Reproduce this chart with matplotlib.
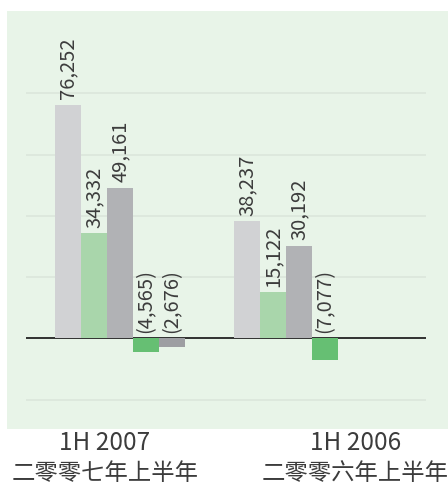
import matplotlib
matplotlib.use("Agg")
import matplotlib.pyplot as plt
import matplotlib.transforms as mtransforms
import numpy as np

plt.rcParams['font.family'] = ['Noto Sans CJK TC', 'DejaVu Sans']

# data
periods = ["1H 2007", "1H 2006"]
periods_cn = ["二零零七年上半年", "二零零六年上半年"]
series_1 = [76252, 38237]
series_2 = [34332, 15122]
series_3 = [49161, 30192]
series_4 = [-4565, -7077]
series_5 = [-2676, None]
all_series = [series_1, series_2, series_3, series_4, series_5]
colors = ["#d1d2d4", "#a9d6ab", "#b1b2b5", "#66bf73", "#9d9ea2"]
grid_vals = [-20000, 20000, 40000, 60000, 80000]

def fmt(v):
    if v < 0:
        return "({:,})".format(-v)
    return "{:,}".format(v)

fig = plt.figure(figsize=(4.48, 4.86), dpi=100)
ax = fig.add_axes([7/448, (486-428.5)/486, 441/448, 417.5/486])
ax.set_facecolor("#e8f4e8")
for s in ax.spines.values():
    s.set_visible(False)
ax.set_xticks([])
ax.set_yticks([])

w = 26/179.0
x = np.arange(len(periods))
ax.set_xlim(-0.631, 1.832)
ax.set_ylim(-29400, 106900)

# gridlines
ax.hlines(grid_vals, -0.525, 1.709, color="#dbe6db", lw=1.2, zorder=1)
ax.hlines([0], -0.525, 1.709, color="#222222", lw=1.3, zorder=2)

text_col = "#3c3c3c"
for i, ser in enumerate(all_series):
    for j, v in enumerate(ser):
        if v is None:
            continue
        xp = x[j] + (i - 2) * w
        ax.bar(xp, v, width=w, color=colors[i], zorder=3)
        base = max(v, 0)
        ax.annotate(fmt(v), (xp, base), xytext=(0, 4), textcoords="offset points",
                    rotation=90, ha="center", va="bottom", fontsize=14.5,
                    color=text_col, fontweight="light", zorder=4)

# category labels
trans = mtransforms.blended_transform_factory(ax.transData, fig.transFigure)
label_x = [-0.084, 1.313]
for j in range(len(periods)):
    fig.text(label_x[j], 1 - 443/486, periods[j], transform=trans, ha="center",
             va="center", fontsize=17.5, color=text_col, fontweight="light")
    fig.text(label_x[j], 1 - 473/486, periods_cn[j], transform=trans, ha="center",
             va="center", fontsize=16.8, color=text_col, fontweight="light")

fig.savefig("out.png", dpi=100)
